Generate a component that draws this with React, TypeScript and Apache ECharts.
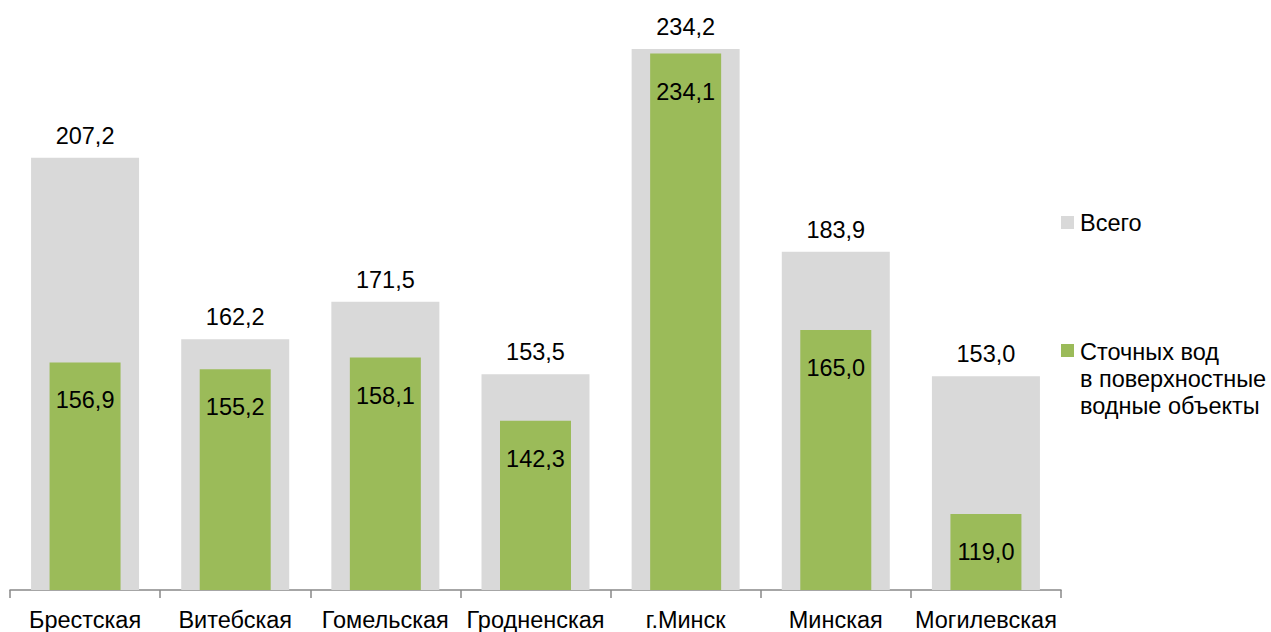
import React, { useEffect, useRef } from "react";
import * as echarts from "echarts";

const categories = ["Брестская", "Витебская", "Гомельская", "Гродненская", "г.Минск", "Минская", "Могилевская"];
const totalName = "Всего";
const dischargeName = "Сточных вод\nв поверхностные\nводные объекты";
const totalValues = [207.2, 162.2, 171.5, 153.5, 234.2, 183.9, 153.0];
const dischargeValues = [156.9, 155.2, 158.1, 142.3, 234.1, 165.0, 119.0];

const FONT = "'Liberation Sans', Arial, sans-serif";
const FS = 23.5;
const GRAY = "#D9D9D9";
const GREEN = "#9BBB59";
const fmt = (v: number) => v.toFixed(1).replace(".", ",");

export default function App() {
  const ref = useRef<HTMLDivElement>(null);
  useEffect(() => {
    document.body.style.margin = "0";
    const chart = echarts.init(ref.current!, null, { renderer: "svg" });
    chart.setOption({
      animation: false,
      backgroundColor: "#ffffff",
      textStyle: { fontFamily: FONT },
      grid: { left: 10, top: 32, width: 1051, height: 560, containLabel: false },
      xAxis: [
        {
          type: "category",
          data: categories,
          boundaryGap: true,
          axisLine: { show: true, lineStyle: { color: "#898989", width: 1.5 } },
          axisTick: { show: true, length: 8, lineStyle: { color: "#898989", width: 1.5 } },
          axisLabel: { color: "#000", fontSize: FS, fontFamily: FONT, margin: 18, interval: 0 },
          splitLine: { show: false },
        },
        { type: "category", data: categories, show: false },
      ],
      yAxis: [
        { type: "value", min: 100, max: 238.4, show: false, splitLine: { show: false } },
        { type: "value", min: 100, max: 239.5, show: false, splitLine: { show: false } },
      ],
      series: [
        {
          name: totalName,
          type: "bar",
          xAxisIndex: 0,
          yAxisIndex: 0,
          data: totalValues,
          barWidth: 108,
          itemStyle: { color: GRAY },
          label: {
            show: true,
            position: "top",
            distance: 10,
            color: "#000",
            fontSize: FS,
            fontFamily: FONT,
            formatter: (p: any) => fmt(p.value),
          },
        },
        {
          name: dischargeName,
          type: "bar",
          xAxisIndex: 1,
          yAxisIndex: 1,
          data: dischargeValues,
          barWidth: 71,
          itemStyle: { color: GREEN },
          label: {
            show: true,
            position: "insideTop",
            distance: 26,
            color: "#000",
            fontSize: FS,
            fontFamily: FONT,
            formatter: (p: any) => fmt(p.value),
          },
        },
      ],
      graphic: [
        { type: "rect", shape: { x: 1061, y: 216, width: 13, height: 13 }, style: { fill: GRAY } },
        {
          type: "text",
          x: 1080,
          y: 222.5,
          style: { text: totalName, font: `${FS}px ${FONT}`, fill: "#000", verticalAlign: "middle", align: "left" },
        },
        { type: "rect", shape: { x: 1061, y: 344, width: 13, height: 13 }, style: { fill: GREEN } },
        {
          type: "text",
          x: 1080,
          y: 338,
          style: {
            text: dischargeName,
            font: `${FS}px ${FONT}`,
            lineHeight: 27,
            fill: "#000",
            verticalAlign: "top",
            align: "left",
          },
        },
      ],
    });
    return () => chart.dispose();
  }, []);
  return <div ref={ref} style={{ width: 1271, height: 632 }} />;
}
